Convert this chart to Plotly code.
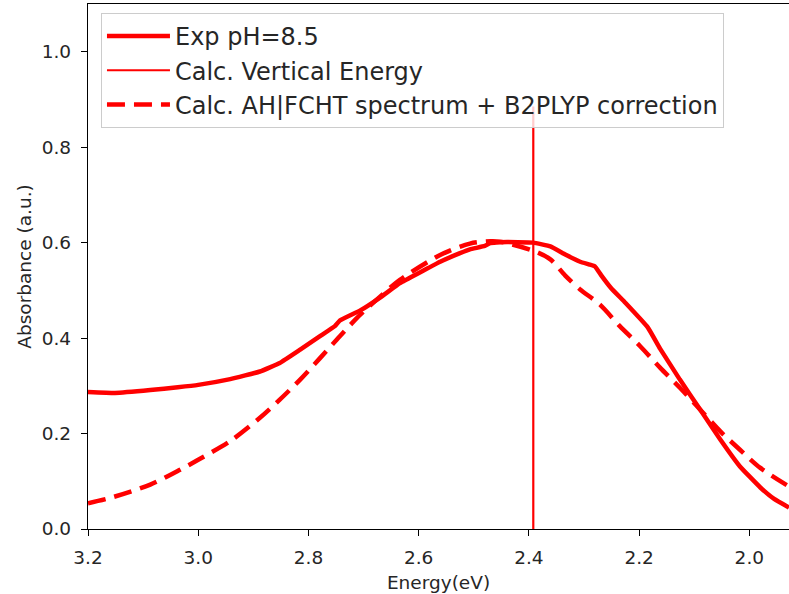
import plotly.graph_objects as go

# Experimental absorption spectrum (pH = 8.5)
exp_energy = [3.200, 3.151, 3.087, 3.037, 3.000, 2.942, 2.888, 2.852, 2.815, 2.779,
              2.752, 2.743, 2.706, 2.670, 2.634, 2.597, 2.561, 2.525, 2.507, 2.480,
              2.470, 2.452, 2.420, 2.392, 2.361, 2.334, 2.307, 2.290, 2.280, 2.269,
              2.251, 2.225, 2.184, 2.162, 2.126, 2.089, 2.053, 2.017, 1.980,
              1.955, 1.928]
exp_abs = [0.287, 0.285, 0.291, 0.297, 0.302, 0.314, 0.330, 0.348, 0.376, 0.404,
           0.425, 0.437, 0.458, 0.485, 0.515, 0.538, 0.560, 0.578, 0.586, 0.593,
           0.599, 0.601, 0.601, 0.600, 0.592, 0.575, 0.560, 0.554, 0.550, 0.532,
           0.505, 0.474, 0.422, 0.378, 0.313, 0.250, 0.188, 0.131, 0.087,
           0.063, 0.045]

# Computed AH|FCHT band with B2PLYP correction
calc_energy = [3.200, 3.160, 3.087, 3.033, 3.000, 2.942, 2.888, 2.852, 2.815, 2.779,
               2.743, 2.706, 2.670, 2.634, 2.561, 2.507, 2.470, 2.452, 2.392, 2.361,
               2.334, 2.307, 2.271, 2.235, 2.198, 2.162, 2.126, 2.089, 2.053, 2.017,
               1.980, 1.928]
calc_abs = [0.054, 0.065, 0.093, 0.124, 0.145, 0.184, 0.233, 0.271, 0.313, 0.358,
            0.404, 0.449, 0.487, 0.522, 0.574, 0.598, 0.603, 0.602, 0.583, 0.565,
            0.531, 0.502, 0.470, 0.425, 0.383, 0.338, 0.296, 0.250, 0.205, 0.166,
            0.128, 0.089]

# Calculated vertical excitation energy (stick)
vert_energy = [2.392, 2.392]
vert_abs = [0.0, 0.885]

x_ticks = [3.2, 3.0, 2.8, 2.6, 2.4, 2.2, 2.0]
y_ticks = [0.0, 0.2, 0.4, 0.6, 0.8, 1.0]

RED = "#ff0000"
FONT = "DejaVu Sans"

fig = go.Figure()
fig.add_trace(go.Scatter(x=exp_energy, y=exp_abs, mode="lines",
                         name="Exp pH=8.5",
                         line=dict(color=RED, width=4.5, shape="spline", smoothing=0.3)))
fig.add_trace(go.Scatter(x=vert_energy, y=vert_abs, mode="lines",
                         name="Calc. Vertical Energy",
                         line=dict(color=RED, width=2.2)))
fig.add_trace(go.Scatter(x=calc_energy, y=calc_abs, mode="lines",
                         name="Calc. AH|FCHT spectrum + B2PLYP correction",
                         line=dict(color=RED, width=4.5, dash="18px,9px",
                                   shape="spline", smoothing=0.8)))

axis_common = dict(
    showline=True, linecolor="#000000", linewidth=1.3,
    ticks="outside", ticklen=6, tickwidth=1.3, tickcolor="#000000",
    showgrid=False, zeroline=False,
    tickfont=dict(family=FONT, size=18.5, color="#262626"),
)

fig.update_layout(
    width=789, height=594,
    margin=dict(l=88, r=0, t=4, b=65),
    paper_bgcolor="white", plot_bgcolor="white",
    font=dict(family=FONT, color="#262626"),
    xaxis=dict(
        range=[3.2, 1.928], tickvals=x_ticks, tickformat=".1f",
        mirror=True, ticklabelstandoff=6,
        title=dict(text="Energy(eV)", font=dict(family=FONT, size=18.5), standoff=8),
        **axis_common,
    ),
    yaxis=dict(
        range=[0, 1.1], tickvals=y_ticks, tickformat=".1f",
        ticklabelstandoff=6,
        title=dict(text="Absorbance (a.u.)", font=dict(family=FONT, size=18.5), standoff=5),
        **axis_common,
    ),
    legend=dict(
        x=0.0185, y=0.983, xanchor="left", yanchor="top",
        bgcolor="rgba(255,255,255,0.8)", bordercolor="#cccccc", borderwidth=1,
        font=dict(family=FONT, size=24, color="#262626"),
        itemwidth=63,
    ),
    showlegend=True,
)

fig.write_html("out.html")
